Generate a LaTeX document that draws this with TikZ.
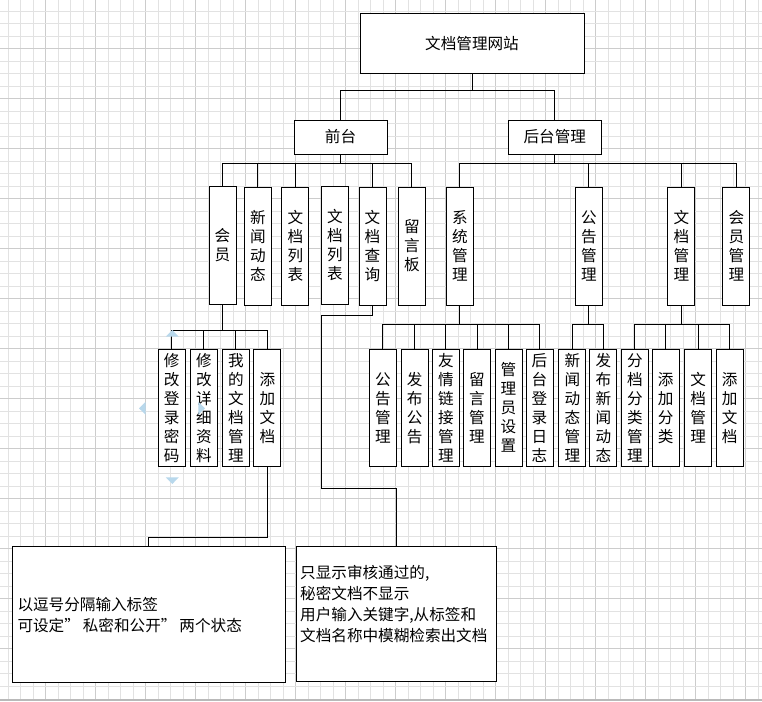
\documentclass[tikz,border=0pt]{standalone}
\usepackage{fontspec}
\setmainfont{Noto Sans CJK SC}
\definecolor{gridminor}{RGB}{226,226,226}
\definecolor{gridmajor}{RGB}{204,204,204}
\definecolor{handle}{RGB}{184,216,236}
\tikzset{
  box/.style={draw=black, line width=1pt, fill=white, inner sep=0pt, align=center,
    font=\fontsize{15.6}{19}\selectfont},
  vbA/.style={box, minimum width=27pt, minimum height=118pt},
  vbB/.style={box, minimum width=27pt, minimum height=116.7pt},
  hbox/.style={box, minimum width=93pt, minimum height=34pt},
  notebox/.style={draw=black, line width=1pt, fill=white, inner sep=0pt},
  notetext/.style={inner sep=0pt, anchor=west, align=left,
    font=\fontsize{15.6}{21}\selectfont},
  conn/.style={draw=black, line width=1pt},
}
\begin{document}
\begin{tikzpicture}[x=1pt,y=-1pt]
\useasboundingbox (0,0) rectangle (762,701);
\fill[white] (0,0) rectangle (762,701);
% grid
\foreach \k in {0,...,60}{
  \pgfmathsetmacro{\gx}{8.3+12.5*\k}
  \pgfmathtruncatemacro{\m}{mod(\k,4)}
  \ifnum\m=3 \draw[gridmajor, line width=0.9pt] (\gx,0) -- (\gx,699);
  \else \draw[gridminor, line width=0.9pt] (\gx,0) -- (\gx,699); \fi
}
\foreach \k in {0,...,54}{
  \pgfmathsetmacro{\gy}{11.3+12.5*\k}
  \pgfmathtruncatemacro{\m}{mod(\k,4)}
  \ifnum\m=3 \draw[gridmajor, line width=0.9pt] (0,\gy) -- (762,\gy);
  \else \draw[gridminor, line width=0.9pt] (0,\gy) -- (762,\gy); \fi
}
\fill[gray!55] (0,699) rectangle (762,701);

% level 0/1
\node[box, minimum width=224pt, minimum height=59pt] (root) at (472,43.5) {文档管理网站};
\node[hbox] (qt) at (340.5,137) {前台};
\node[hbox] (ht) at (554.8,137) {后台管理};

% level 2 front
\node[vbA] (hy) at (222.5,245.5) {会\\员};
\node[vbA] (xw) at (257.8,246) {新\\闻\\动\\态};
\node[vbA] (lb1) at (295.3,246) {文\\档\\列\\表};
\node[vbA] (lb2) at (334.8,245.5) {文\\档\\列\\表};
\node[vbA] (cx) at (372.5,246) {文\\档\\查\\询};
\node[vbA] (ly) at (411.8,246) {留\\言\\板};
% level 2 back
\node[vbA] (xt) at (459.8,246) {系\\统\\管\\理};
\node[vbA] (gg) at (588.8,246) {公\\告\\管\\理};
\node[vbA] (wd) at (681.3,246) {文\\档\\管\\理};
\node[vbA] (hg) at (736.3,246) {会\\员\\管\\理};

% level 3
\node[vbB] (a1) at (171.7,407.7) {修\\改\\登\\录\\密\\码};
\node[vbB] (a2) at (203.8,407.7) {修\\改\\详\\细\\资\\料};
\node[vbB] (a3) at (235.8,407.7) {我\\的\\文\\档\\管\\理};
\node[vbB] (a4) at (267.3,407.7) {添\\加\\文\\档};
\node[vbB] (b1) at (382.8,407.7) {公\\告\\管\\理};
\node[vbB] (b2) at (414.7,407.7) {发\\布\\公\\告};
\node[vbB] (b3) at (445.8,407.7) {友\\情\\链\\接\\管\\理};
\node[vbB] (b4) at (477,407.7) {留\\言\\管\\理};
\node[vbB] (b5) at (508.5,407.7) {管\\理\\员\\设\\置};
\node[vbB] (b6) at (539.5,407.7) {后\\台\\登\\录\\日\\志};
\node[vbB] (c1) at (572.3,407.7) {新\\闻\\动\\态\\管\\理};
\node[vbB] (c2) at (603.3,407.7) {发\\布\\新\\闻\\动\\态};
\node[vbB] (d1) at (634.8,408) {分\\档\\分\\类\\管\\理};
\node[vbB] (d2) at (665.7,408) {添\\加\\分\\类};
\node[vbB] (d3) at (698.2,408) {文\\档\\管\\理};
\node[vbB] (d4) at (729.7,408) {添\\加\\文\\档};

% notes
\node[notebox, minimum width=273pt, minimum height=136.3pt] (n1) at (148.8,614.8) {};
\node[notebox, minimum width=199.7pt, minimum height=135.3pt] (n2) at (396.2,614.3) {};
\node[notetext] (t1) at (17.3,615.5) {以逗号分隔输入标签\\可设定”\hspace{3pt}私密和公开”\hspace{3pt}两个状态};
\node[notetext] (t2) at (300,604) {只显示审核通过的,\\秘密文档不显示\\用户输入关键字,从标签和\\文档名称中模糊检索出文档};

% bus coordinates
\coordinate (y1) at (0,90);
\coordinate (y2) at (0,163.3);
\coordinate (y3a) at (0,330.3);
\coordinate (y3b) at (0,324.3);
\coordinate (ya4) at (0,537);
\coordinate (k1) at (321.7,315);
\coordinate (k2) at (321.7,488.3);

% connectors
\draw[conn] (root.south) -- (root.south |- y1);
\draw[conn] (qt.north) |- (ht.north |- y1) -- (ht.north);

\draw[conn] (qt.south) -- (qt.south |- y2);
\draw[conn] (hy.north) |- (ly.north |- y2) -- (ly.north);
\foreach \c in {xw,lb1,cx} \draw[conn] (\c.north) -- (\c.north |- y2);

\draw[conn] (ht.south) -- (ht.south |- y2);
\draw[conn] (xt.north) |- (hg.north |- y2) -- (hg.north);
\foreach \c in {gg,wd} \draw[conn] (\c.north) -- (\c.north |- y2);

\draw[conn] (hy.south) -- (hy.south |- y3a);
\draw[conn] (a1.north) |- (a4.north |- y3a) -- (a4.north);
\foreach \c in {a2,a3} \draw[conn] (\c.north) -- (\c.north |- y3a);

\draw[conn] (xt.south) -- (xt.south |- y3b);
\draw[conn] (b1.north) |- (b6.north |- y3b) -- (b6.north);
\foreach \c in {b2,b3,b4,b5} \draw[conn] (\c.north) -- (\c.north |- y3b);

\draw[conn] (gg.south) -- (gg.south |- y3b);
\draw[conn] (c1.north) |- (c2.north |- y3b) -- (c2.north);

\draw[conn] (wd.south) -- (wd.south |- y3b);
\draw[conn] (d1.north) |- (d4.north |- y3b) -- (d4.north);
\foreach \c in {d2,d3} \draw[conn] (\c.north) -- (\c.north |- y3b);

\draw[conn] (a4.south) -- (a4.south |- ya4) -| (n1.north);
\draw[conn] (cx.south) |- (k1) -- (k2) -| (n2.north);

% selection handles
\fill[handle] (172.3,330) -- (178.8,336.7) -- (165.8,336.7) -- cycle;
\fill[handle] (172.3,484) -- (178.8,477.3) -- (165.8,477.3) -- cycle;
\fill[handle] (139,408.3) -- (145.7,401.8) -- (145.7,414.8) -- cycle;
\fill[handle] (205,408.3) -- (198.3,401.8) -- (198.3,414.8) -- cycle;
\end{tikzpicture}
\end{document}
